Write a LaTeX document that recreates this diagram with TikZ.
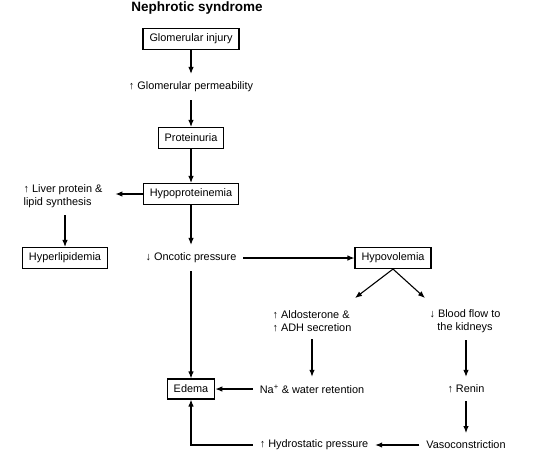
\documentclass[tikz,border=0pt]{standalone}
\usepackage{fontspec}
\setmainfont{Liberation Sans}
\usetikzlibrary{arrows.meta}
\tikzset{
  box/.style={draw, line width=1.1pt, inner xsep=6.5pt, minimum height=21pt}, % boxed step
  txt/.style={inner sep=2pt, outer xsep=5pt, outer ysep=6pt}, % plain step
  link/.style={-{Latex[length=7pt,width=5.5pt]}, line width=1.1pt} % a simple arrow
}

\begin{document}
\begin{tikzpicture}[x=1pt, y=-1pt, every edge/.style={draw, link},
    font=\fontsize{10.9}{12.5}\selectfont]
  \useasboundingbox (0,0) rectangle (543,459);

  % Title
  \node[font=\fontsize{13.5}{15}\selectfont\bfseries] (title) at (197,8) {Nephrotic syndrome};

  % Main column
  \node[box] (glom) at (191,39) {Glomerular injury};
  \node[txt] (perm) at (191,87) {↑ Glomerular permeability};
  \node[box] (prot) at (191,138) {Proteinuria};
  \node[box] (hypoprot) at (191,194) {Hypoproteinemia};
  \node[txt] (onc) at (191,258) {↓ Oncotic pressure};
  \node[box, minimum height=20pt] (edema) at (191,389) {Edema};

  % Left branch
  \node[txt, align=left] (liver) at (63,196) {↑ Liver protein \&\\lipid synthesis};
  \node[box] (hyperlip) at (65,258) {Hyperlipidemia};

  % Right branch
  \node[box] (hypovol) at (393,258) {Hypovolemia};
  \node[txt, align=left] (aldo) at (312,321) {↑ Aldosterone \&\\↑ ADH secretion};
  \node[txt, align=center] (blood) at (465,321) {↓ Blood flow to\\the kidneys};
  \node[txt] (na) at (312,389) {Na\textsuperscript{+} \& water retention};
  \node[txt] (renin) at (466,389) {↑ Renin};
  \node[txt] (vaso) at (466,445) {Vasoconstriction};
  \node[txt] (hydro) at (314,445) {↑ Hydrostatic pressure};
  \coordinate (aldotip) at (355,298);
  \coordinate (bloodtip) at (425,298);

  % Connect
  \path (glom) edge (perm)
        (perm) edge (prot)
        (prot) edge (hypoprot)
        (hypoprot) edge (onc)
        (hypoprot.west) edge[shorten >=6pt] (hypoprot.west -| liver.east)
        (liver.south -| hyperlip) edge (hyperlip)
        (onc) edge (hypovol)
        (onc) edge (edema)
        (hypovol.south) edge (aldotip)
        (hypovol.south) edge (bloodtip)
        (aldo.south -| na) edge (na)
        (blood.south -| renin) edge (renin)
        (renin) edge (vaso)
        (na) edge (edema)
        (vaso) edge (hydro);
  \draw[link] (hydro.west) -| (edema.south);
\end{tikzpicture}
\end{document}
